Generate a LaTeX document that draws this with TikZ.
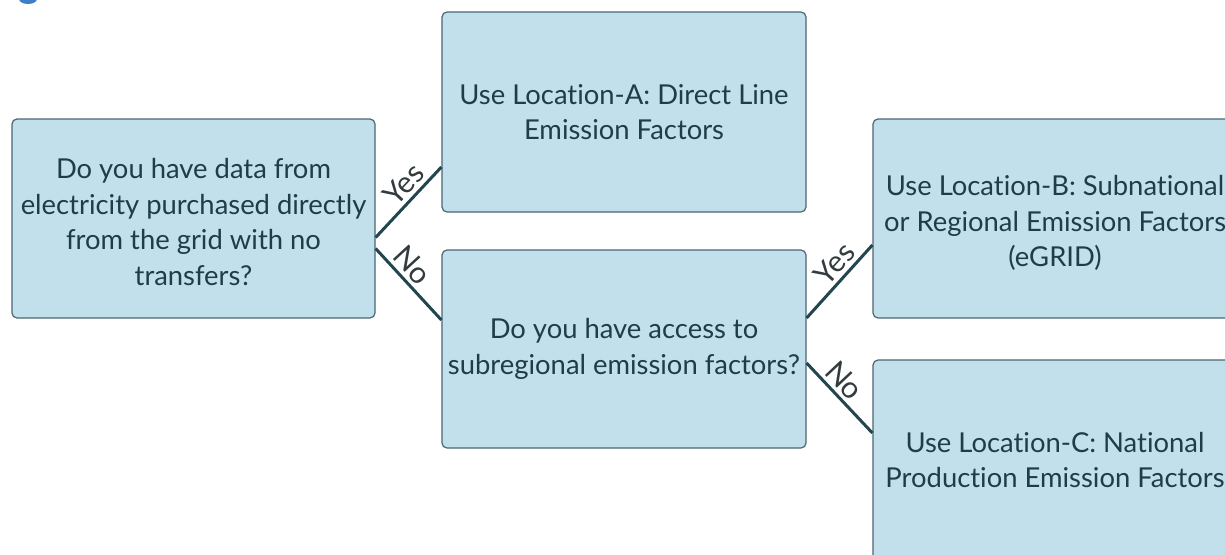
\documentclass[tikz,border=0pt]{standalone}
\usepackage{fontspec}
\setmainfont{Lato}[Ligatures={NoCommon}]
\definecolor{boxfill}{HTML}{C1E0EC}
\definecolor{boxline}{HTML}{4A6772}
\definecolor{txt}{HTML}{1F3C47}
\definecolor{conn}{HTML}{234550}
\definecolor{lbltxt}{HTML}{333B3F}
\definecolor{titleblue}{HTML}{3F7FC8}
\begin{document}
\begin{tikzpicture}[x=1pt,y=-1pt,
  box/.style={draw=boxline, line width=1.2pt, fill=boxfill, rounded corners=5pt,
    text=txt, align=center, inner sep=0pt,
    font=\fontsize{27.4}{35.5}\selectfont},
  conn/.style={draw=conn, line width=3pt},
  lbl/.style={text=lbltxt, font=\fontsize{30}{32}\selectfont, inner sep=3.5pt}]
\useasboundingbox (0,0) rectangle (1225,554);
\clip (0,0) rectangle (1225,554);
\fill[titleblue] (28,-1) ellipse [x radius=9, y radius=5];

\node[box, minimum width=363pt, minimum height=199pt, text height=134pt] (q1) at (193.5,218.5)
  {Do you have data from\\electricity purchased directly\\from the grid with no\\transfers?};
\node[box, minimum width=364pt, minimum height=200pt] (a) at (624,112)
  {Use Location-A: Direct Line\\Emission Factors};
\node[box, minimum width=364pt, minimum height=198pt] (q2) at (624,349)
  {Do you have access to\\subregional emission factors?};
\node[box, minimum width=364pt, minimum height=199pt, text height=101pt] (b) at (1055,218.5)
  {Use Location-B: Subnational\\or Regional Emission Factors\\(eGRID)};
\node[box, minimum width=364pt, minimum height=200pt] (c) at (1055,460)
  {Use Location-C: National\\Production Emission Factors};

\draw[conn] ([yshift=-19pt]q1.east) -- node[lbl, pos=0.6, sloped, above] {Yes} ([yshift=-55pt]a.west);
\draw[conn] ([yshift=-30pt]q1.east) -- node[lbl, pos=0.38, sloped, above] {No} ([yshift=29pt]q2.west);
\draw[conn] ([yshift=31pt]q2.east) -- node[lbl, pos=0.6, sloped, above] {Yes} ([yshift=-26.5pt]b.west);
\draw[conn] ([yshift=-14pt]q2.east) -- node[lbl, pos=0.4, sloped, above] {No} ([yshift=27pt]c.west);
\end{tikzpicture}
\end{document}
